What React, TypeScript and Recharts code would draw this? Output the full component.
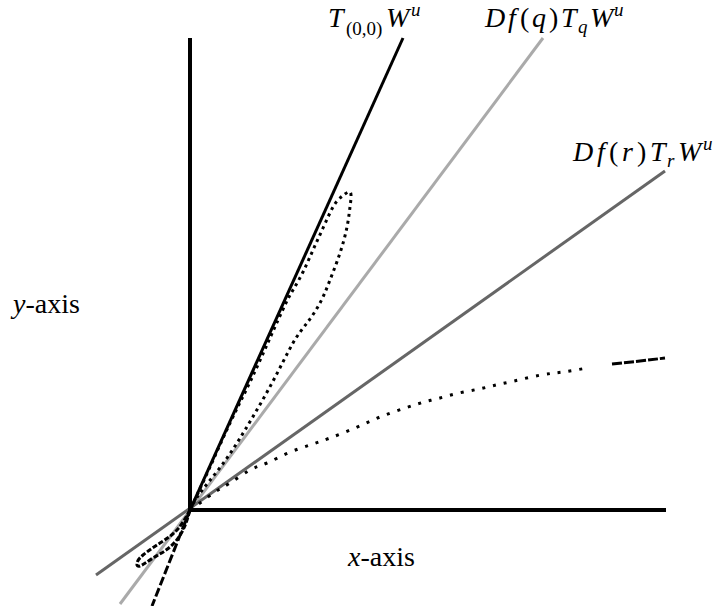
import { ComposedChart, Line, XAxis, YAxis } from 'recharts';

// all coordinates are in plot units, origin where the two axes meet
const yAxisLine = [
  { x: 0, y: 0 },
  { x: 0, y: 472 },
];
const xAxisLine = [
  { x: 0, y: 0 },
  { x: 476, y: 0 },
];

// T_(0,0) W^u : solid above the origin, broken below
const tangentUpper = [
  { x: 0, y: 0 },
  { x: 213, y: 472 },
];
const tangentLower = [
  { x: 0, y: 0 },
  { x: -38, y: -96 },
];

// Df(q) T_q W^u (light gray)
const lineQ = [
  { x: -70, y: -94 },
  { x: 353, y: 472 },
];

// Df(r) T_r W^u (dark gray)
const lineR = [
  { x: -94, y: -65 },
  { x: 475, y: 339 },
];

// thin loop hugging the tangent line
const upperLoop = [
  { x: 0, y: 0 }, { x: 10, y: 17 }, { x: 32, y: 45 }, { x: 55, y: 80 },
  { x: 82, y: 127 }, { x: 103, y: 167 }, { x: 117, y: 187 }, { x: 130, y: 207 },
  { x: 140, y: 230 }, { x: 150, y: 257 }, { x: 157, y: 283 }, { x: 160, y: 303 },
  { x: 161, y: 312 }, { x: 160, y: 318 }, { x: 155, y: 316 }, { x: 150, y: 312 },
  { x: 143, y: 303 }, { x: 133, y: 282 }, { x: 123, y: 260 }, { x: 113, y: 238 },
  { x: 103, y: 220 }, { x: 95, y: 205 }, { x: 80, y: 172 }, { x: 60, y: 128 },
  { x: 40, y: 87 }, { x: 20, y: 43 }, { x: 0, y: 0 },
];

// small loop below the origin
const lowerLoop = [
  { x: 0, y: 0 }, { x: -13, y: -20 }, { x: -30, y: -33 }, { x: -47, y: -45 },
  { x: -53, y: -53 }, { x: -50, y: -56 }, { x: -37, y: -48 }, { x: -20, y: -37 },
  { x: -7, y: -20 }, { x: 0, y: 0 },
];

// sparse dotted curve bending towards the x-axis
const lowerCurve = [
  { x: 0, y: 0 }, { x: 10, y: 7 }, { x: 25, y: 18 }, { x: 40, y: 27 },
  { x: 60, y: 40 }, { x: 77, y: 47 }, { x: 98, y: 57 }, { x: 120, y: 65 },
  { x: 140, y: 72 }, { x: 165, y: 82 }, { x: 190, y: 93 }, { x: 215, y: 102 },
  { x: 234, y: 108 }, { x: 250, y: 112 }, { x: 269, y: 117 }, { x: 289, y: 121 },
  { x: 306, y: 125 }, { x: 324, y: 129 }, { x: 351, y: 135 }, { x: 373, y: 138 },
  { x: 397, y: 142 },
];
const lowerCurveEnd = [
  { x: 422, y: 146 }, { x: 450, y: 149 }, { x: 475, y: 152 },
];

const W = 721;
const H = 606;

const serif = '"Liberation Serif", "DejaVu Serif", serif';

const noDot = { dot: false, activeDot: false, isAnimationActive: false } as const;

const FS = 28;
const SS = 19;

export default function App() {
  return (
    <div style={{ position: 'absolute', left: 0, top: 0, width: W, height: H, background: '#fff' }}>
      <ComposedChart width={W} height={H} margin={{ top: 0, right: 0, bottom: 0, left: 0 }}>
        <XAxis type="number" dataKey="x" domain={[-190, 531]} hide allowDataOverflow />
        <YAxis type="number" dataKey="y" domain={[-96, 510]} hide allowDataOverflow />

        <Line data={lineQ} dataKey="y" stroke="#aaaaaa" strokeWidth={3} {...noDot} />
        <Line data={lineR} dataKey="y" stroke="#666666" strokeWidth={3} {...noDot} />

        <Line data={upperLoop} dataKey="y" type="natural" stroke="#000" strokeWidth={3}
          strokeDasharray="3 4" {...noDot} />
        <Line data={lowerLoop} dataKey="y" type="natural" stroke="#000" strokeWidth={3}
          strokeDasharray="5 2" {...noDot} />
        <Line data={lowerCurve} dataKey="y" type="natural" stroke="#000" strokeWidth={3}
          strokeDasharray="3 8" {...noDot} />
        <Line data={lowerCurveEnd} dataKey="y" type="natural" stroke="#000" strokeWidth={3}
          strokeDasharray="10 2" {...noDot} />

        <Line data={tangentUpper} dataKey="y" stroke="#000" strokeWidth={3} {...noDot} />
        <Line data={tangentLower} dataKey="y" stroke="#000" strokeWidth={3}
          strokeDasharray="9 3" {...noDot} />

        <Line data={yAxisLine} dataKey="y" stroke="#000" strokeWidth={4} {...noDot} />
        <Line data={xAxisLine} dataKey="y" stroke="#000" strokeWidth={4} {...noDot} />
      </ComposedChart>

      <svg width={W} height={H} style={{ position: 'absolute', left: 0, top: 0, pointerEvents: 'none' }}
        fontFamily={serif} fill="#000">
        <text fontSize={FS}>
          <tspan x={328} y={27} fontStyle="italic">T</tspan>
          <tspan x={346} y={35} fontSize={SS}>(0,0)</tspan>
          <tspan x={386} y={27} fontStyle="italic">W</tspan>
          <tspan x={411} y={16} fontSize={SS} fontStyle="italic">u</tspan>
        </text>
        <text fontSize={FS}>
          <tspan x={485} y={27} fontStyle="italic">D</tspan>
          <tspan x={508} y={27} fontStyle="italic">f</tspan>
          <tspan x={520} y={27}>(</tspan>
          <tspan x={532} y={27} fontStyle="italic">q</tspan>
          <tspan x={549} y={27}>)</tspan>
          <tspan x={561} y={27} fontStyle="italic">T</tspan>
          <tspan x={578} y={33} fontSize={SS} fontStyle="italic">q</tspan>
          <tspan x={590} y={27} fontStyle="italic">W</tspan>
          <tspan x={614} y={16} fontSize={SS} fontStyle="italic">u</tspan>
        </text>
        <text fontSize={FS}>
          <tspan x={573} y={161} fontStyle="italic">D</tspan>
          <tspan x={597} y={161} fontStyle="italic">f</tspan>
          <tspan x={609} y={161}>(</tspan>
          <tspan x={622} y={161} fontStyle="italic">r</tspan>
          <tspan x={637} y={161}>)</tspan>
          <tspan x={650} y={161} fontStyle="italic">T</tspan>
          <tspan x={667} y={167} fontSize={SS} fontStyle="italic">r</tspan>
          <tspan x={678} y={161} fontStyle="italic">W</tspan>
          <tspan x={703} y={150} fontSize={SS} fontStyle="italic">u</tspan>
        </text>
        <text x={13} y={313} fontSize={FS}>
          <tspan fontStyle="italic">y</tspan>
          <tspan>-axis</tspan>
        </text>
        <text x={348} y={566} fontSize={FS}>
          <tspan fontStyle="italic">x</tspan>
          <tspan>-axis</tspan>
        </text>
      </svg>
    </div>
  );
}
